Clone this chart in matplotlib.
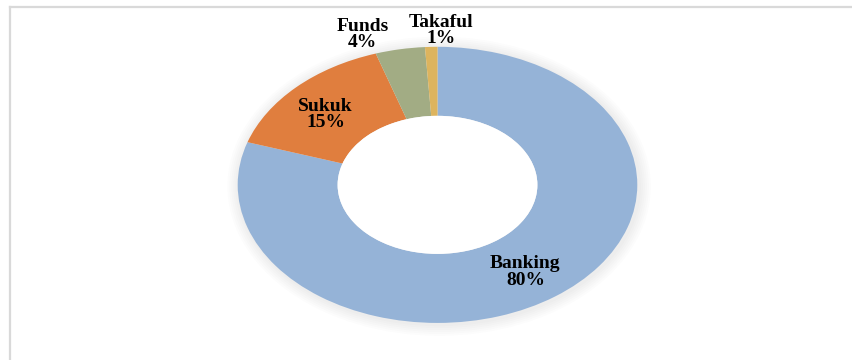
import matplotlib.pyplot as plt
from matplotlib.lines import Line2D
from matplotlib.patches import Ellipse

# Shares of the Islamic finance market.
categories = ['Banking', 'Sukuk', 'Funds', 'Takaful']
shares = [80, 15, 4, 1]
colors = ['#95B3D7', '#E07E3E', '#A2AC84', '#DDB45E']

fig = plt.figure(figsize=(8.52, 3.6), dpi=100)
fig.patch.set_facecolor('white')

# Light frame on the top and left edges.
fig.add_artist(Line2D([0.012, 0.012], [0.0, 0.981], color='#D9D9D9', lw=1.6))
fig.add_artist(Line2D([0.012, 1.0], [0.981, 0.981], color='#D9D9D9', lw=1.6))

# Stretched donut: the axes box is wider than tall.
ax = fig.add_axes([0.279, 0.103, 0.469, 0.767])

# Faint glow around the ring.
for i in range(6):
    ax.add_patch(Ellipse((0.008, -0.01), 2 * (1.0 + 0.01 * (i + 1)), 2 * (1.0 + 0.014 * (i + 1)),
                         facecolor='#000000', alpha=0.01, edgecolor='none',
                         zorder=0, clip_on=False))

ax.pie(shares, colors=colors, startangle=90, counterclock=False,
       wedgeprops=dict(width=0.5, edgecolor='none'))
ax.add_patch(Ellipse((0, 0), 1.0, 1.0, facecolor='white', edgecolor='none', zorder=3))

ax.set_aspect('auto')
ax.set_xlim(-1, 1)
ax.set_ylim(-1, 1)
ax.axis('off')

# Label positions in pie coordinates.
label_pos = [(0.44, -0.63), (-0.56, 0.51), (-0.375, 1.09), (0.02, 1.12)]
for name, val, (x, y) in zip(categories, shares, label_pos):
    ax.text(x, y, f'{name}\n{val}%', ha='center', va='center',
            family='Liberation Serif', fontweight='bold', fontsize=14,
            linespacing=0.95, clip_on=False, zorder=5)

plt.savefig('out.png', dpi=100)
